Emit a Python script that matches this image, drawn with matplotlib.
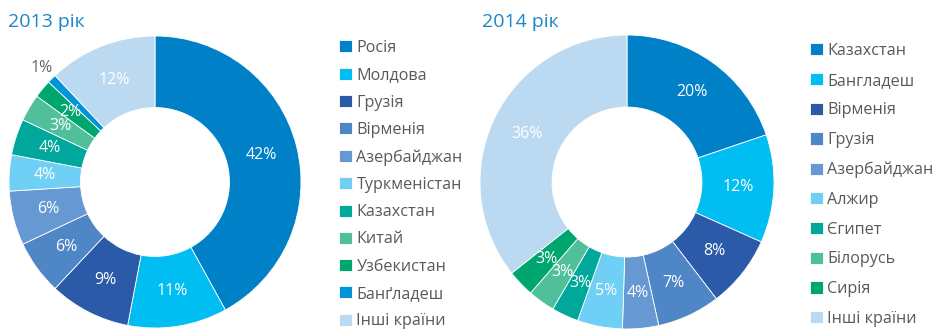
import numpy as np
import matplotlib.pyplot as plt

# 2013: країни-отримувачі
labels_2013 = ['Росія', 'Молдова', 'Грузія', 'Вірменія', 'Азербайджан', 'Туркменістан',
               'Казахстан', 'Китай', 'Узбекистан', 'Банґладеш', 'Інші країни']
values_2013 = [42, 11, 9, 6, 6, 4, 4, 3, 2, 1, 12]

# 2014
labels_2014 = ['Казахстан', 'Бангладеш', 'Вірменія', 'Грузія', 'Азербайджан', 'Алжир',
               'Єгипет', 'Білорусь', 'Сирія', 'Інші країни']
values_2014 = [20, 12, 8, 7, 4, 5, 3, 3, 3, 36]

colors_2013 = ['#0080c6', '#00bdf2', '#2b5aa8', '#4f86c6', '#6699d1', '#6fcff5',
               '#00a79b', '#4fbf9c', '#00a66f', '#0095d8', '#bbdaf1']
colors_2014 = ['#0080c6', '#00bdf2', '#2b5aa8', '#4f86c6', '#6699d1', '#6fcff5',
               '#00a79b', '#4fbf9c', '#00a66f', '#bbdaf1']

plt.rcParams['font.family'] = ['Open Sans', 'DejaVu Sans']

fig = plt.figure(figsize=(9.35, 3.29), dpi=100)
W, H = 935, 329


def donut(cx, cy, r, values, colors, labels, title, title_x, leg_x, leg_y, leg_space):
    ax = fig.add_axes([(cx - r) / W, 1 - (cy + r) / H, 2 * r / W, 2 * r / H])
    wedges, _ = ax.pie(values, colors=colors, startangle=90, counterclock=False,
                       radius=1, wedgeprops=dict(width=0.49, edgecolor='white', linewidth=0.6))
    total = sum(values)
    cum = 0
    for v in values:
        mid = 90 - (cum + v / 2) / total * 360
        cum += v
        ang = np.deg2rad(mid)
        # крихітний сектор підписано ззовні
        if v / total < 0.015:
            rr, col = 1.1, '#666666'
        else:
            rr, col = 0.755, 'white'
        ax.text(rr * np.cos(ang), rr * np.sin(ang), f'{v}%', ha='center', va='center',
                color=col, fontsize=11.5)
    ax.set_xlim(-1, 1)
    ax.set_ylim(-1, 1)
    ax.set_aspect('equal')
    ax.axis('off')
    fig.text(title_x / W, 1 - 22 / H, title, color='#1a87c9', fontsize=14, va='center', ha='left')
    leg = fig.legend(wedges, labels, loc='upper left', bbox_to_anchor=(leg_x / W, 1 - leg_y / H),
                     frameon=False, fontsize=11.6, handlelength=0.78, handleheight=0.78,
                     handletextpad=0.3, labelspacing=leg_space, borderpad=0, borderaxespad=0)
    for t in leg.get_texts():
        t.set_color('#595959')
    return ax


donut(155, 182, 146, values_2013, colors_2013, labels_2013, '2013 рік', 8, 339, 40, 0.70)
donut(627, 182, 147, values_2014, colors_2014, labels_2014, '2014 рік', 482, 810, 43, 0.85)

fig.savefig('out.png', dpi=100)
